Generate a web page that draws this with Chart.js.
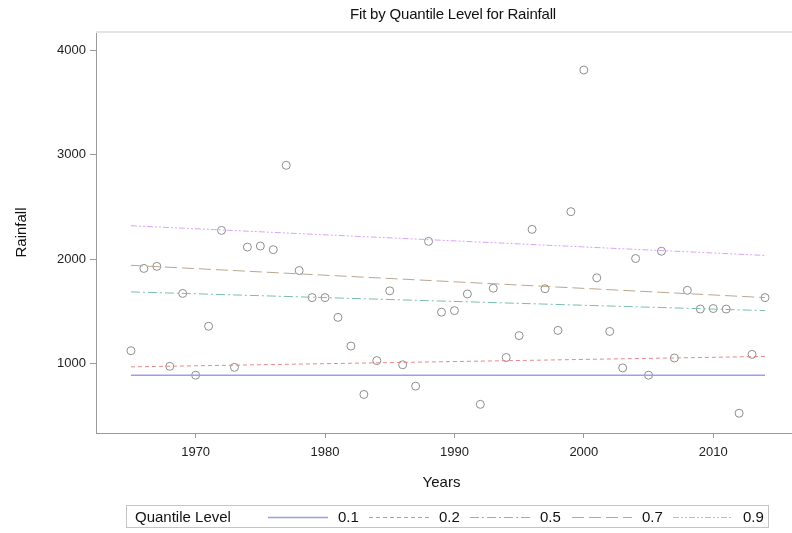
<!DOCTYPE html>
<html>
<head>
<meta charset="utf-8">
<script src="https://cdn.jsdelivr.net/npm/chart.js@4/dist/chart.umd.min.js"></script>
<style>
 body { margin:0; background:#fff; }
 #wrap { position:relative; width:792px; height:533px; font-family:"Liberation Sans", Arial, sans-serif; color:#111; }
 #title { position:absolute; top:5px; left:253px; width:400px; text-align:center; font-size:15px; letter-spacing:-0.2px; }
 #legend { position:absolute; left:126px; top:505px; width:641px; height:21px; border:1px solid #c4c4c4; font-size:15px; }
 #legend span, #legend svg { position:absolute; }
 #legend span { top:2px; }
 #legend svg { top:10px; }
</style>
</head>
<body>
<div id="wrap">
 <canvas id="myChart" width="792" height="533"></canvas>
 <div id="title">Fit by Quantile Level for Rainfall</div>
 <div id="legend"></div>
</div>
<script>
// observed rainfall per year
var years = [1965,1966,1967,1968,1969,1970,1971,1972,1973,1974,1975,1976,1977,1978,1979,1980,1981,1982,1983,1984,1985,1986,1987,1988,1989,
             1990,1991,1992,1993,1994,1995,1996,1997,1998,1999,2000,2001,2002,2003,2004,2005,2006,2007,2008,2009,2010,2011,2012,2013,2014];
var rainfall = [1120,1910,1930,970,1670,885,1355,2275,960,2115,2125,2090,2900,1890,1630,1630,1440,1165,700,1025,1695,985,780,2170,1490,
                1505,1665,605,1720,1055,1265,2285,1715,1315,2455,3815,1820,1305,955,2005,885,2075,1050,1700,1520,1525,1520,520,1085,1630];

// quantile regression fits (value at first and last year)
var quantileLevels = ["0.1","0.2","0.5","0.7","0.9"];
var fitYears = [1965, 2014];
var fitStart = [885, 965, 1685, 1940, 2320];
var fitEnd = [885, 1065, 1505, 1630, 2035];

var xTicks = [1970,1980,1990,2000,2010];
var yTicks = [1000,2000,3000,4000];

var lineColors = ["#9d9df0","#e48a8a","#7bbdb0","#bba68f","#d9a4f2"];
var lineDashes = [[],[4,3],[9,3,2,3],[12,5],[6,2,2,2,2,2]];
var lineWidths = [1.5,1,1,1,1];

var font = "'Liberation Sans', Arial, sans-serif";

function buildDatasets() {
  var sets = [];
  for (var i = 0; i < quantileLevels.length; i++) {
    sets.push({
      type: "line",
      label: quantileLevels[i],
      data: [{x: fitYears[0], y: fitStart[i]}, {x: fitYears[1], y: fitEnd[i]}],
      borderColor: lineColors[i],
      borderDash: lineDashes[i],
      borderWidth: lineWidths[i],
      pointRadius: 0,
      fill: false
    });
  }
  sets.push({
    type: "scatter",
    label: "Rainfall",
    data: years.map(function(y, i) { return {x: y, y: rainfall[i]}; }),
    pointStyle: "circle",
    pointRadius: 4,
    borderColor: "#8e8e8e",
    backgroundColor: "rgba(0,0,0,0)",
    borderWidth: 1
  });
  return sets;
}

var topLine = {
  id: "topLine",
  afterDraw: function(chart) {
    var ctx = chart.ctx, a = chart.chartArea;
    ctx.save();
    ctx.strokeStyle = "#e4e4e4";
    ctx.lineWidth = 2;
    ctx.beginPath();
    ctx.moveTo(a.left, a.top);
    ctx.lineTo(chart.width, a.top);
    ctx.stroke();
    ctx.beginPath();
    ctx.strokeStyle = "#9a9a9a";
    ctx.lineWidth = 1;
    ctx.moveTo(a.right, a.bottom + 0.5);
    ctx.lineTo(chart.width, a.bottom + 0.5);
    ctx.stroke();
    ctx.restore();
  }
};

function plain(v) { return String(v); }

function printChart() {
  var ctx = document.getElementById("myChart").getContext("2d");
  new Chart(ctx, {
    type: "scatter",
    data: { datasets: buildDatasets() },
    plugins: [topLine],
    options: {
      responsive: false,
      animation: false,
      layout: { padding: { top: 32, bottom: 30, left: 0, right: 0 } },
      plugins: { legend: { display: false }, tooltip: { enabled: false }, title: { display: false } },
      scales: {
        x: {
          type: "linear",
          min: 1962.3,
          max: 2015.7,
          afterFit: function(s) { s.height = 70; },
          afterBuildTicks: function(s) { s.ticks = xTicks.map(function(v) { return {value: v}; }); },
          border: { display: true, color: "#9a9a9a", width: 1 },
          grid: { drawOnChartArea: false, drawTicks: true, tickLength: 5, color: "#9a9a9a" },
          ticks: { color: "#222", padding: 7, font: { family: font, size: 13 }, maxRotation: 0, callback: plain },
          title: { display: true, text: "Years", color: "#111", font: { family: font, size: 15 }, padding: { top: 0, bottom: 11 } }
        },
        y: {
          min: 330,
          max: 4180,
          afterFit: function(s) { s.width = 96; },
          afterBuildTicks: function(s) { s.ticks = yTicks.map(function(v) { return {value: v}; }); },
          border: { display: true, color: "#9a9a9a", width: 1 },
          grid: { drawOnChartArea: false, drawTicks: true, tickLength: 6, color: "#9a9a9a" },
          ticks: { color: "#222", padding: 4, font: { family: font, size: 13 }, callback: plain },
          title: { display: true, text: "Rainfall", color: "#111", font: { family: font, size: 15 }, padding: { top: 13, bottom: 0 } }
        }
      }
    }
  });
}

function printLegend() {
  var box = document.getElementById("legend");
  var lineX = [141, 242, 343, 445, 546];
  var html = '<span style="left:8px">Quantile Level</span>';
  for (var i = 0; i < quantileLevels.length; i++) {
    html += '<svg width="60" height="3" style="left:' + lineX[i] + 'px"><line x1="0" y1="1.5" x2="60" y2="1.5" stroke="' + lineColors[i] +
            '" stroke-width="' + lineWidths[i] + '" stroke-dasharray="' + lineDashes[i].join(",") + '"/></svg>';
    html += '<span style="left:' + (lineX[i] + 70) + 'px">' + quantileLevels[i] + '</span>';
  }
  box.innerHTML = html;
}

function init() {
  printChart();
  printLegend();
}
init();
</script>
</body>
</html>
